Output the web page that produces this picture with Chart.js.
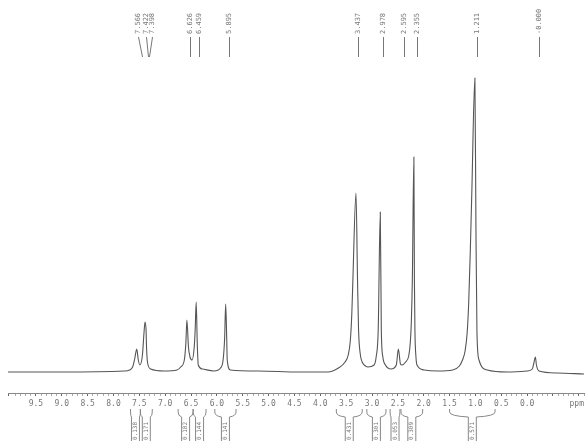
<!DOCTYPE html>
<html>
<head>
<meta charset="utf-8">
<title>1H NMR spectrum</title>
<script src="https://cdn.jsdelivr.net/npm/chart.js@4.4.1/dist/chart.umd.min.js"></script>
<style>
  html, body { margin: 0; padding: 0; background: #fff; }
  #wrap { width: 587px; height: 446px; position: relative; }
</style>
</head>
<body>
<div id="wrap"><canvas id="nmr"></canvas></div>
<script>
// trace: chemical shift (ppm) and height
const shifts = [10.04, 9.04, 7.79, 7.69, 7.63, 7.59, 7.55, 7.52, 7.49, 7.44, 7.41, 7.39, 7.37, 7.36, 7.34, 7.28,
  7.02, 6.77, 6.70, 6.63, 6.60, 6.58, 6.55, 6.52, 6.48, 6.44, 6.42, 6.40, 6.38, 6.36, 6.28,
  6.06, 5.93, 5.88, 5.85, 5.83, 5.81, 5.80, 5.74, 5.19, 4.42, 3.85,
  3.65, 3.52, 3.46, 3.42, 3.39, 3.37, 3.31, 3.28, 3.26, 3.23, 3.19, 3.15, 3.08,
  2.96, 2.92, 2.88, 2.84, 2.82, 2.79, 2.74, 2.63, 2.53, 2.49, 2.45, 2.42,
  2.35, 2.29, 2.26, 2.24, 2.22, 2.19, 2.18, 2.17, 2.15, 2.13, 1.99, 1.73,
  1.44, 1.31, 1.25, 1.20, 1.16, 1.13, 1.10, 1.07, 1.01, 0.99, 0.97, 0.93, 0.77, 0.38,
  0.00, -0.10, -0.13, -0.16, -0.18, -0.23, -0.58, -1.10];
const intensity = [21, 21, 22, 23, 26, 34, 44, 33, 28, 38, 60, 71, 63, 45, 30, 24,
  22, 23, 26, 33, 50, 73, 46, 36, 33, 45, 63, 91, 50, 28, 24,
  22, 25, 33, 55, 89, 55, 33, 23, 22, 21, 21,
  25, 31, 38, 52, 80, 113, 200, 113, 63, 40, 31, 28, 26,
  28, 36, 63, 181, 63, 36, 28, 24, 28, 44, 29, 28,
  31, 37, 50, 70, 113, 236, 113, 63, 36, 28, 23, 22,
  23, 27, 33, 42, 60, 90, 140, 200, 315, 166, 60, 33, 23, 21,
  22, 24, 30, 36, 28, 22, 20, 19];

// peak picking labels at the top
const peakLabels = ['7.566', '7.422', '7.398', '6.626', '6.459', '5.895',
  '3.437', '2.978', '2.595', '2.355', '1.211', '-0.000'];
const labelPpm = [7.52, 7.38, 7.25, 6.52, 6.35, 5.77, 3.27, 2.79, 2.38, 2.13, 0.96, -0.23];
const linePpm = [7.44, 7.33, 7.31, 6.52, 6.35, 5.77, 3.27, 2.79, 2.38, 2.13, 0.96, -0.23];

// integration regions under the axis
const intFrom = [7.67, 7.48, 6.75, 6.46, 6.04, 3.69, 3.10, 2.65, 2.44, 1.50];
const intTo = [7.48, 7.25, 6.46, 6.21, 5.63, 3.19, 2.73, 2.46, 2.02, 0.62];
const intValues = ['0.138', '0.171', '0.182', '0.144', '0.141', '0.431', '0.301', '0.053', '0.309', '0.571'];

const ink = '#777';
const mono = '"DejaVu Sans Mono", monospace';

const annotations = {
  id: 'annotations',
  afterDraw(chart) {
    const ctx = chart.ctx;
    const xs = chart.scales.x;
    ctx.save();
    ctx.strokeStyle = ink;
    ctx.fillStyle = ink;
    ctx.lineWidth = 1;

    // peak labels, rotated
    ctx.font = '7px ' + mono;
    peakLabels.forEach((t, i) => {
      const x0 = Math.round(xs.getPixelForValue(labelPpm[i])) + 0.5;
      const x1 = Math.round(xs.getPixelForValue(linePpm[i])) + 0.5;
      ctx.save();
      ctx.translate(x0, 34);
      ctx.rotate(-Math.PI / 2);
      ctx.textAlign = 'left';
      ctx.textBaseline = 'middle';
      ctx.fillText(t, 0, 0);
      ctx.restore();
      ctx.beginPath();
      ctx.moveTo(x0, 37);
      ctx.lineTo(x1, 57);
      ctx.stroke();
    });

    // ppm unit at the right end of the axis
    ctx.font = '8px ' + mono;
    ctx.textAlign = 'center';
    ctx.textBaseline = 'middle';
    ctx.fillText('ppm', xs.getPixelForValue(-0.96), 404);

    // integral brackets with values
    ctx.strokeStyle = '#888';
    intValues.forEach((v, i) => {
      const a = xs.getPixelForValue(intFrom[i]);
      const b = xs.getPixelForValue(intTo[i]);
      const c = (a + b) / 2;
      ctx.beginPath();
      ctx.moveTo(a, 409);
      ctx.lineTo(a, 412);
      ctx.quadraticCurveTo(a, 416, c - 4, 417);
      ctx.moveTo(b, 409);
      ctx.lineTo(b, 412);
      ctx.quadraticCurveTo(b, 416, c + 4, 417);
      ctx.moveTo(c - 4, 417);
      ctx.lineTo(c - 4, 441);
      ctx.moveTo(c + 4, 417);
      ctx.lineTo(c + 4, 441);
      ctx.stroke();
      ctx.save();
      ctx.translate(c, 440);
      ctx.rotate(-Math.PI / 2);
      ctx.font = '6px ' + mono;
      ctx.textAlign = 'left';
      ctx.textBaseline = 'middle';
      ctx.fillText(v, 0, 0);
      ctx.restore();
    });
    ctx.restore();
  }
};

const chart = new Chart(document.getElementById('nmr'), {
  type: 'line',
  data: {
    datasets: [{
      data: shifts.map((s, i) => ({ x: s, y: intensity[i] })),
      borderColor: '#555',
      borderWidth: 1.1,
      pointRadius: 0,
      fill: false,
      cubicInterpolationMode: 'monotone'
    }]
  },
  options: {
    responsive: true,
    maintainAspectRatio: false,
    animation: false,
    layout: { padding: { top: 70, left: 8, right: 0, bottom: 0 } },
    plugins: { legend: { display: false }, tooltip: { enabled: false } },
    scales: {
      x: {
        type: 'linear',
        reverse: true,
        min: -1.1,
        max: 10.04,
        afterFit(scale) { scale.height = 53; },
        border: { display: true, color: '#888', width: 1 },
        grid: {
          drawOnChartArea: false,
          drawTicks: true,
          tickLength: 3,
          tickColor: (c) => (Math.round(c.tick.value * 10) % 5 === 0 ? '#666' : '#aaa')
        },
        ticks: {
          stepSize: 0.1,
          autoSkip: false,
          maxRotation: 0,
          padding: 3,
          color: ink,
          font: { family: mono, size: 8 },
          callback(v) {
            const h = Math.round(v * 10);
            if (h % 5 !== 0 || h < 0 || h > 95) return '';
            return (h / 10).toFixed(1);
          }
        }
      },
      y: { display: false, min: 0, max: 323 }
    }
  },
  plugins: [annotations]
});
</script>
</body>
</html>
